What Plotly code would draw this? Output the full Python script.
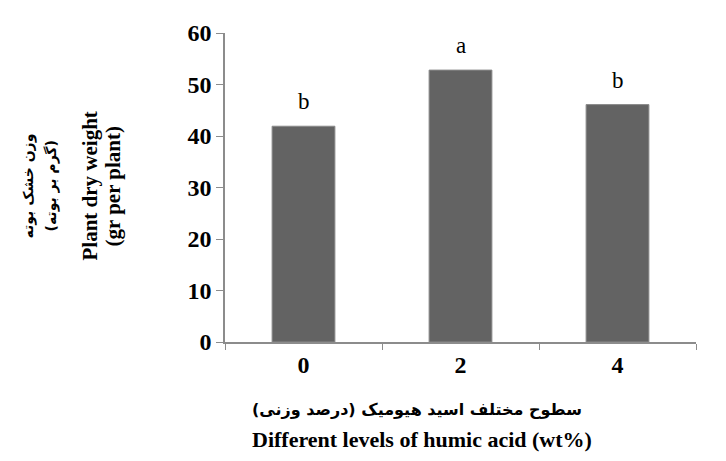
import plotly.graph_objects as go

categories = ["0", "2", "4"]
dry_weight = [41.9, 52.8, 46.1]
letters = ["b", "a", "b"]
y_ticks = [0, 10, 20, 30, 40, 50, 60]

# page has an 8px body margin; figure sized to fit the window
OFF = 8
W, H = 726 - OFF, 461 - OFF
L, R, T, B = 225 - OFF, 30, 24 - OFF, 119
pw = W - L - R
ph = H - T - B

def px_to_paper_x(px):
    return (px - OFF - L) / pw

def px_to_paper_y(py):
    return (H - B - (py - OFF)) / ph

fig = go.Figure()
fig.add_trace(go.Bar(
    x=categories, y=dry_weight,
    marker=dict(color="#636363", line=dict(color="#8a8a8a", width=1)),
    cliponaxis=False,
))

axis_col = "#8c8c8c"
fig.update_layout(
    width=W, height=H,
    margin=dict(l=L, r=R, t=T, b=B),
    paper_bgcolor="white", plot_bgcolor="white",
    showlegend=False,
    bargap=0.6,
    xaxis=dict(
        type="category", range=[-0.5, len(categories) - 0.5],
        showline=True, linecolor=axis_col, linewidth=1.5,
        ticks="outside", tickson="boundaries", ticklen=6, tickcolor=axis_col,
        tickfont=dict(family="Liberation Serif", size=24, color="black", weight="bold"),
        showgrid=False,
    ),
    yaxis=dict(
        range=[0, 60], tickvals=y_ticks,
        showline=True, linecolor=axis_col, linewidth=1.5,
        ticks="outside", ticklen=7, tickcolor=axis_col,
        tickfont=dict(family="Liberation Serif", size=24, color="black", weight="bold"),
        showgrid=False, zeroline=False,
    ),
)

for i, (v, t) in enumerate(zip(dry_weight, letters)):
    fig.add_annotation(x=i, y=v, text=t, showarrow=False, yanchor="bottom",
                       yshift=10,
                       font=dict(family="Liberation Serif", size=23, color="black"))

# y-axis titles (rotated)
ytitles = [
    ("وزن خشک بوته", 29, "DejaVu Sans", 14, "bold"),
    ("(گرم بر بوته)", 52, "DejaVu Sans", 14, "bold"),
    ("Plant dry weight", 90, "Liberation Serif", 21, "bold"),
    ("(gr per plant)", 113, "Liberation Serif", 21, "bold"),
]
for txt, xp, fam, sz, wt in ytitles:
    fig.add_annotation(xref="paper", yref="paper", x=px_to_paper_x(xp), y=px_to_paper_y(182),
                       text=txt, textangle=-90, showarrow=False,
                       xanchor="center", yanchor="middle",
                       font=dict(family=fam, size=sz, color="black", weight=wt))

# x-axis titles
fig.add_annotation(xref="paper", yref="paper", x=px_to_paper_x(417), y=px_to_paper_y(411),
                   text="سطوح مختلف اسید هیومیک (درصد وزنی)", showarrow=False,
                   xanchor="center", yanchor="middle",
                   font=dict(family="DejaVu Sans", size=16, color="black", weight="bold"))
fig.add_annotation(xref="paper", yref="paper", x=px_to_paper_x(422), y=px_to_paper_y(442),
                   text="Different levels of humic acid (wt%)", showarrow=False,
                   xanchor="center", yanchor="middle",
                   font=dict(family="Liberation Serif", size=22, color="black", weight="bold"))

fig.write_html("out.html")
